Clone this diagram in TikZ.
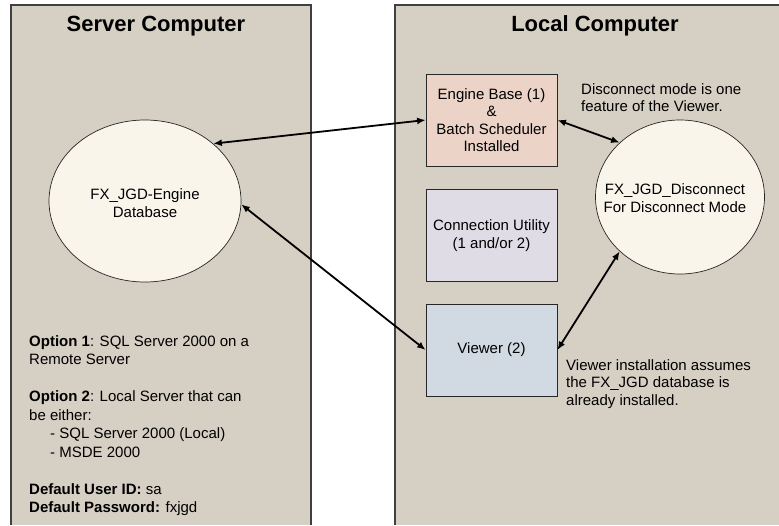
\documentclass[tikz,border=0pt]{standalone}
\usepackage{fontspec}
\setmainfont{Liberation Sans}
\usetikzlibrary{shapes.geometric,arrows.meta}

\definecolor{panelgrau}{RGB}{214,207,196}
\definecolor{dbcreme}{RGB}{249,245,235}
\definecolor{engrosa}{RGB}{236,211,199}
\definecolor{conlila}{RGB}{223,220,230}
\definecolor{viewblau}{RGB}{209,217,226}

\newcommand{\normschrift}{\fontsize{15}{17.5}\selectfont}
\newcommand{\titelschrift}{\fontsize{22}{26}\selectfont\bfseries}

\begin{document}
\begin{tikzpicture}[x=1pt, y=-1pt,
  rahmen/.style={draw=black!75, line width=1.2pt},
  db/.style={ellipse, draw=black!85, fill=dbcreme, line width=0.7pt, inner sep=0},
  kasten/.style={rectangle, draw=black!85, line width=0.8pt,
    minimum width=131pt, minimum height=92pt, inner sep=0,
    align=center, font=\normschrift},
  txt/.style={inner sep=0, align=left, font=\normschrift},
  pfeil/.style={{Latex[length=8.5pt,width=7pt]}-{Latex[length=8.5pt,width=7pt]}, line width=1.8pt}
]
\useasboundingbox (0,0) rectangle (779,525);

% Rechner
\fill[panelgrau] (11,5) rectangle (311,525);
\draw[rahmen] (11,525) -- (11,5) -- (311,5) -- (311,525);
\fill[panelgrau] (395,5) rectangle (779,525);
\draw[rahmen] (395,525) -- (395,5) -- (779,5);

\node[anchor=base, font=\titelschrift] (srvtitel) at (156,31) {Server Computer};
\node[anchor=base, font=\titelschrift] (loctitel) at (595,31) {Local Computer};

% Datenbanken
\node[db, minimum width=192pt, minimum height=162pt] (srv) at (145,201) {};
\node[txt, align=center] (srvtext) at (145,203) {FX\_JGD-Engine\\Database};

\node[db, minimum width=169pt, minimum height=154pt] (disc) at (680,197) {};
\node[txt, align=center] (disctext) at (675,198) {FX\_JGD\_Disconnect\\For Disconnect Mode};

% Kaesten
\node[kasten, fill=engrosa] (eng) at (491.5,120)
  {Engine Base (1)\\\&\\Batch Scheduler\\Installed};
\node[kasten, fill=conlila] (con) at (491.5,235.5)
  {Connection Utility\\(1 and/or 2)};
\node[kasten, fill=viewblau] (view) at (491.5,350) {Viewer (2)};

% Notizen
\node[txt, anchor=north west] (discnote) at (581,83)
  {Disconnect mode is one\\feature of the Viewer.};
\node[txt, anchor=north west] (viewnote) at (566,359)
  {Viewer installation assumes\\the FX\_JGD database is\\already installed.};
\node[txt, anchor=north west, font=\fontsize{15}{18.5}\selectfont] (optionen) at (29,335)
  {\textbf{Option 1}: SQL Server 2000 on a\\Remote Server\\[18.5pt]
   \textbf{Option 2}: Local Server that can\\be either:\\
   \hspace*{21pt}- SQL Server 2000 (Local)\\
   \hspace*{21pt}- MSDE 2000\\[18.5pt]
   \textbf{Default User ID:} sa\\
   \textbf{Default Password:} fxjgd};

% Verbindungen
\draw[pfeil] (eng.west) -- (srv.40);
\draw[pfeil] (srv.-2) -- (view.west);
\draw[pfeil] (eng.east) -- (disc.138);
\draw[pfeil] (view.east) -- (disc.222);

\end{tikzpicture}
\end{document}
